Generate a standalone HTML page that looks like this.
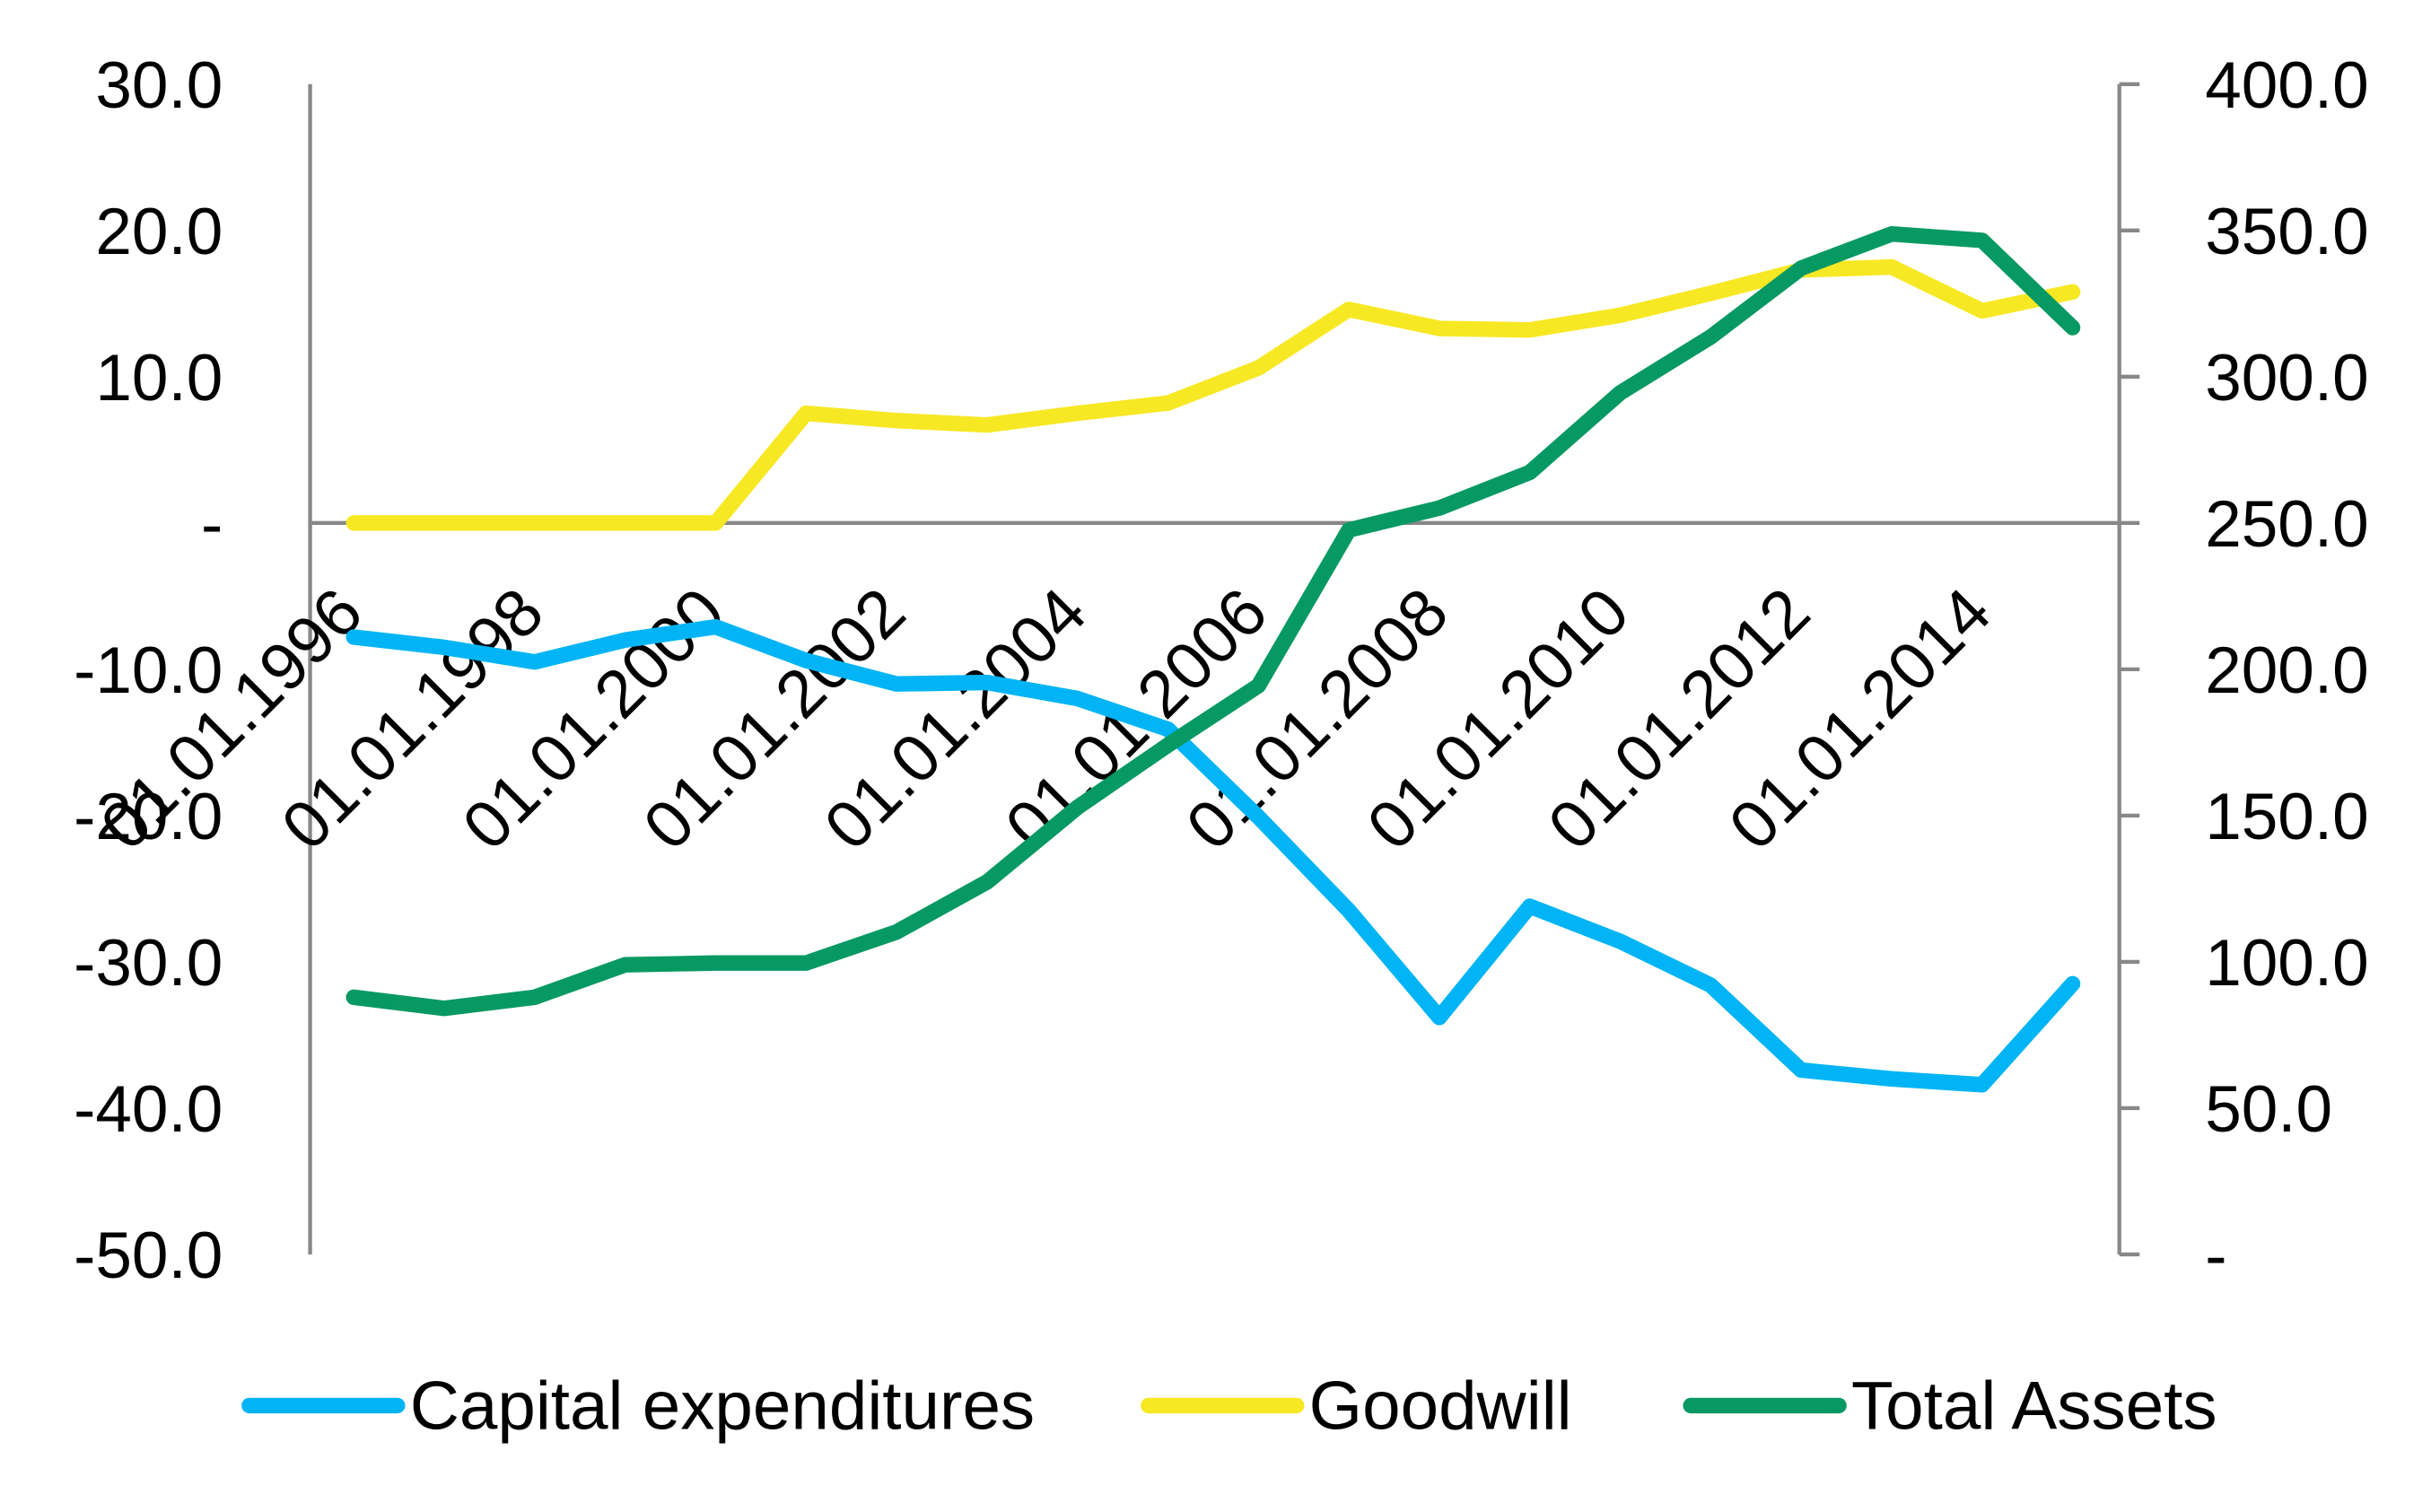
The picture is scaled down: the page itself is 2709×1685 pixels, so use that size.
<!DOCTYPE html>
<html><head><meta charset="utf-8"><style>
html,body{margin:0;padding:0;background:#fff;}
svg{display:block;}
text{font-family:"Liberation Sans",sans-serif;fill:#000;}
</style></head><body>
<svg id="chart" width="2709" height="1685" viewBox="0 0 1560 970.3" preserveAspectRatio="none" xmlns="http://www.w3.org/2000/svg">
<g id="axes"></g><g id="series"></g><g id="legend"></g>
</svg>
<script>
const years = [1996,1997,1998,1999,2000,2001,2002,2003,2004,2005,2006,2007,2008,2009,2010,2011,2012,2013,2014,2015];
const capex = [-7.8,-8.5,-9.5,-8.0,-7.1,-9.4,-11.0,-10.9,-12.0,-14.1,-20.1,-26.5,-33.8,-26.2,-28.6,-31.6,-37.4,-38.0,-38.4,-31.5];
const goodwill = [0,0,0,0,0,7.5,7.0,6.7,7.5,8.2,10.6,14.6,13.3,13.2,14.2,15.7,17.3,17.5,14.5,15.8];
const totalAssets = [87.9,84.1,87.9,99.0,99.6,99.6,110.2,127.3,152.8,174.1,194.4,247.6,255.1,267.3,294.5,313.6,337.1,348.8,346.6,316.8];
const leftTicks = [30,20,10,0,-10,-20,-30,-40,-50];
const leftTickLabels = ["30.0","20.0","10.0","-","-10.0","-20.0","-30.0","-40.0","-50.0"];
const rightTicks = [400,350,300,250,200,150,100,50,0];
const rightTickLabels = ["400.0","350.0","300.0","250.0","200.0","150.0","100.0","50.0","-"];
const catLabels = ["01.01.1996","01.01.1998","01.01.2000","01.01.2002","01.01.2004","01.01.2006","01.01.2008","01.01.2010","01.01.2012","01.01.2014"];

const NS="http://www.w3.org/2000/svg";
const yTop=54, yBot=805, xL=199, xR=1360;
const yL=v=>yTop+(30-v)/80*(yBot-yTop);
const yR=v=>yTop+(400-v)/400*(yBot-yTop);
const xI=i=>227+i*(1330-227)/(years.length-1);
function mk(tag,attrs,parent){const e=document.createElementNS(NS,tag);for(const k in attrs)e.setAttribute(k,attrs[k]);parent.appendChild(e);return e;}
const axes=document.getElementById('axes');
let e;
e=mk('line',{x1:xL,y1:yTop,x2:xL,y2:yBot,stroke:'#888','stroke-width':2.5},axes);


e=mk('line',{x1:xR,y1:yTop,x2:xR,y2:yBot,stroke:'#888','stroke-width':2.5},axes);


e=mk('line',{x1:xL,y1:yL(0),x2:xR,y2:yL(0),stroke:'#888','stroke-width':2.5},axes);


leftTicks.forEach((v,i)=>{
  const t=mk('text',{x:143,y:yL(v)+15,'text-anchor':'end','font-size':42},axes);t.textContent=leftTickLabels[i];
  
  
});
rightTicks.forEach((v,i)=>{
  const l=mk('line',{x1:xR,y1:yR(v),x2:xR+13,y2:yR(v),stroke:'#888','stroke-width':2.5},axes);
  
  
  const t=mk('text',{x:1415,y:yR(v)+15,'text-anchor':'start','font-size':42},axes);t.textContent=rightTickLabels[i];
  
  
});
catLabels.forEach((s,k)=>{
  const x=xI(k*2)+8, y=yL(0)+60;
  const t=mk('text',{x:x,y:y,'text-anchor':'end','font-size':43,transform:`rotate(-45 ${x} ${y})`},axes);t.textContent=s;
  
  
});
const ser=document.getElementById('series');
function drawLine(vals,yf,color,name){
  const pts=vals.map((v,i)=>xI(i)+','+yf(v)).join(' ');
  const p=mk('polyline',{points:pts,fill:'none',stroke:color,'stroke-width':10,'stroke-linejoin':'round','stroke-linecap':'round'},ser);
  
  
}
drawLine(capex,yL,'#00B4F5','capex-line');
drawLine(goodwill,yL,'#F7E824','goodwill-line');
drawLine(totalAssets,yR,'#079963','total-assets-line');
const lg=document.getElementById('legend');
[['Capital expenditures','#00B4F5',160,'legend-capex'],['Goodwill','#F7E824',737,'legend-goodwill'],['Total Assets','#079963',1085,'legend-total-assets']].forEach(a=>{
  const g=mk('g',{},lg);
  
  
  mk('line',{x1:a[2],y1:902,x2:a[2]+95,y2:902,stroke:a[1],'stroke-width':10,'stroke-linecap':'round'},g);
  const t=mk('text',{x:a[2]+103,y:917,'font-size':44},g);t.textContent=a[0];
});
</script>
</body></html>
